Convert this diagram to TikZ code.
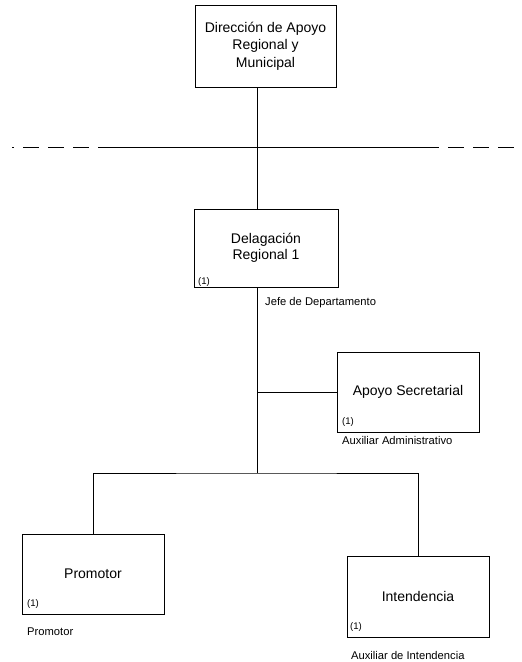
\documentclass[tikz,border=0pt]{standalone}
\usepackage{fontspec}
\setmainfont{Liberation Sans}
\begin{document}
\begin{tikzpicture}[x=1pt,y=-1pt,
 box/.style={draw, line width=0.8pt, rectangle, align=center, inner sep=0pt, font=\fontsize{14}{16.5}\selectfont},
 lbl/.style={inner sep=0pt, font=\fontsize{11.2}{13}\selectfont, anchor=base west},
 cnt/.style={inner sep=0pt, font=\fontsize{9.6}{12}\selectfont, anchor=base west},
 conn/.style={line width=0.8pt}]
\useasboundingbox (0,0) rectangle (522,662);

\node[box, minimum width=141pt, minimum height=82pt, font=\fontsize{14}{17.5}\selectfont] (dir) at (265.5,46) {Dirección de Apoyo\\Regional y\\Municipal};
\node[box, minimum width=144pt, minimum height=78pt] (del) at (266,248) {Delagación\\Regional 1};
\node[box, minimum width=142pt, minimum height=80pt] (apo) at (408,392) {Apoyo Secretarial};
\node[box, minimum width=142pt, minimum height=80pt] (pro) at (93,574) {Promotor};
\node[box, minimum width=142pt, minimum height=81pt] (int) at (418,596.5) {Intendencia};

\coordinate (trunk) at (257,0);
\coordinate (bus) at (257,473);
\coordinate (dl) at (12,147);
\coordinate (dr) at (522,147);
\coordinate (sl) at (98,147);
\coordinate (sr) at (434,147);

\draw[conn, dash pattern=on 16pt off 9pt, dash phase=14pt] (dl) -- (dr);
\draw[conn] (sl) -- (sr);

\draw[conn] (dir.south -| trunk) -- (del.north -| trunk);
\draw[conn] (del.south -| trunk) -- (bus);
\draw[conn] (apo.west -| trunk) -- (apo.west);
\draw[conn] (pro.north) |- (bus) -| (int.north);

\node[lbl] (jefe) at (265,305.5) {Jefe de Departamento};
\node[lbl] (auxa) at (342,444.5) {Auxiliar Administrativo};
\node[lbl] (prol) at (27,635) {Promotor};
\node[lbl] (auxi) at (351,659) {Auxiliar de Intendencia};

\node[cnt] (c1) at (198,284.5) {(1)};
\node[cnt] (c2) at (342,424.5) {(1)};
\node[cnt] (c3) at (27,606.5) {(1)};
\node[cnt] (c4) at (350,629.5) {(1)};
\end{tikzpicture}
\end{document}
